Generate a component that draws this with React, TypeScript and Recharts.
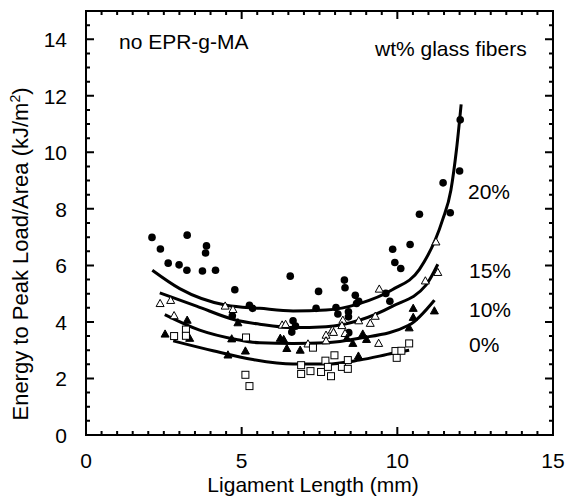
import { ComposedChart, XAxis, YAxis, Line, Scatter, Customized } from "recharts";

const FONT = "'Liberation Sans', Arial, Helvetica, sans-serif";

// measured points: [ligament length (mm), energy to peak load/area (kJ/m2)]
const glass20 = [
  [2.12, 6.99], [2.39, 6.58], [3.25, 7.07], [3.87, 6.69], [3.84, 6.44], [2.64, 6.08],
  [2.99, 6.02], [3.24, 5.83], [3.74, 5.8], [4.16, 5.83], [4.78, 5.14], [5.25, 4.59],
  [5.35, 4.48], [4.7, 4.22], [6.56, 5.62], [7.47, 5.08], [8.3, 5.48], [8.32, 5.21],
  [8.65, 4.94], [8.76, 4.73], [8.69, 4.65], [7.39, 4.48], [8.03, 4.51], [8.09, 4.28],
  [8.43, 4.36], [8.43, 4.18], [6.65, 4.04], [6.73, 3.85], [6.61, 3.64], [9.63, 5.01],
  [9.76, 4.73], [9.85, 6.57], [10.41, 6.74], [9.92, 6.1], [10.11, 5.89], [12.02, 11.15],
  [12.0, 9.34], [11.47, 8.92], [11.7, 7.86], [10.71, 7.81], [8.44, 3.62],
];
const glass15 = [
  [2.38, 4.65], [2.72, 4.76], [2.83, 4.22], [4.47, 4.56], [4.72, 4.44], [9.42, 5.16],
  [11.24, 6.83], [11.3, 5.75], [10.9, 5.45], [9.29, 4.2], [9.13, 3.95], [8.76, 4.04],
  [8.25, 4.06], [8.22, 3.87], [7.91, 3.71], [7.95, 3.63], [7.71, 3.53], [7.71, 3.33],
  [8.32, 3.59], [6.3, 3.89], [6.41, 3.91], [7.13, 3.22], [9.4, 3.24],
];
const glass10 = [
  [2.54, 3.57], [3.25, 4.06], [3.33, 3.42], [4.88, 3.97], [4.68, 3.4], [4.56, 2.83],
  [5.12, 2.97], [6.24, 3.42], [6.35, 3.38], [6.45, 3.06], [6.88, 3.0], [8.38, 3.42],
  [8.57, 3.24], [8.89, 3.57], [9.01, 3.38], [8.75, 2.79], [10.38, 3.79], [10.51, 4.48],
  [10.51, 4.16], [11.19, 4.39],
];
const glass0 = [
  [2.83, 3.5], [3.21, 3.73], [3.21, 3.51], [5.14, 3.45], [5.12, 2.13], [5.25, 1.73],
  [7.29, 3.09], [6.91, 2.47], [6.91, 2.16], [7.21, 2.26], [7.55, 2.23], [7.69, 2.63],
  [7.77, 2.41], [7.87, 2.08], [7.98, 2.82], [8.22, 2.41], [8.41, 2.65], [8.41, 2.34],
  [9.94, 2.97], [9.98, 2.73], [10.13, 2.98], [10.38, 3.24],
];

// fitted curves
const fit20 = [
  [2.13, 5.83], [3.01, 5.18], [4.51, 4.59], [5.58, 4.48], [6.65, 4.39], [7.71, 4.42],
  [8.78, 4.65], [9.85, 5.15], [10.71, 5.86], [11.45, 7.6], [11.72, 8.66], [11.9, 10.1],
  [12.05, 11.7],
];
const fit15 = [
  [2.37, 5.03], [3.55, 4.56], [4.83, 4.06], [5.58, 3.92], [6.65, 3.8], [7.71, 3.83],
  [8.78, 4.06], [9.85, 4.56], [10.92, 5.3], [11.3, 6.04],
];
const fit10 = [
  [2.53, 4.26], [3.65, 3.71], [4.83, 3.38], [5.58, 3.26], [6.65, 3.24], [7.71, 3.26],
  [8.78, 3.42], [10.38, 3.89], [11.19, 4.77],
];
const fit0 = [
  [2.8, 3.33], [4.08, 2.98], [5.36, 2.67], [6.65, 2.51], [7.71, 2.51], [8.78, 2.65],
  [9.85, 2.89], [10.38, 3.0],
];

const X_MAX = 15;
const Y_MAX = 15;
const xMajor = [0, 5, 10, 15];
const yMajor = [0, 2, 4, 6, 8, 10, 12, 14];
const xTicks = Array.from({ length: 31 }, (_, i) => i * 0.5);
const yTicks = Array.from({ length: 31 }, (_, i) => i * 0.5);

const toXY = (pts: number[][]) => pts.map(([x, y]) => ({ x, y }));

// chart box: the plot area follows from margin + axis sizes
const W = 565;
const H = 501;
const MARGIN = { top: 11, right: 12, bottom: 36, left: 26 };
const X_AXIS_H = 30;
const Y_AXIS_W = 60;
const plotLeft = MARGIN.left + Y_AXIS_W;
const plotTop = MARGIN.top;
const plotRight = W - MARGIN.right;
const plotBottom = H - MARGIN.bottom - X_AXIS_H;
const px = (v: number) => plotLeft + (v / X_MAX) * (plotRight - plotLeft);
const py = (v: number) => plotBottom - (v / Y_MAX) * (plotBottom - plotTop);

const xLen = (v: number) => (xMajor.includes(v) ? 8 : 4);
const yLen = (v: number) => (yMajor.includes(v) || v === Y_MAX ? 8 : 4);

// frame with inward ticks on all four sides, as one path
const Frame = () => {
  let d = `M${plotLeft},${plotTop}H${plotRight}V${plotBottom}H${plotLeft}Z`;
  xTicks.forEach((v) => {
    const x = px(v);
    d += `M${x},${plotBottom}v${-xLen(v)}M${x},${plotTop}v${xLen(v)}`;
  });
  yTicks.forEach((v) => {
    const y = py(v);
    d += `M${plotLeft},${y}h${yLen(v)}M${plotRight},${y}h${-yLen(v)}`;
  });
  return <path d={d} fill="none" stroke="#000" strokeWidth={2} />;
};

const BottomTick = ({ x, y, payload }: any) =>
  xMajor.includes(payload.value) ? (
    <text x={x} y={y + 33} textAnchor="middle" fontSize={21} fontFamily={FONT} fill="#000">
      {payload.value}
    </text>
  ) : (
    <g />
  );

const LeftTick = ({ x, y, payload }: any) =>
  yMajor.includes(payload.value) ? (
    <text x={x - 19} y={y + 8} textAnchor="end" fontSize={21} fontFamily={FONT} fill="#000">
      {payload.value}
    </text>
  ) : (
    <g />
  );

const dotShape = (p: any) => <circle cx={p.cx} cy={p.cy} r={3.8} fill="#000" />;
const triShape = (fill: string) => (p: any) => (
  <polygon
    points={`${p.cx},${p.cy - 4.2} ${p.cx - 4},${p.cy + 3} ${p.cx + 4},${p.cy + 3}`}
    fill={fill}
    stroke="#000"
    strokeWidth={1}
  />
);
const squareShape = (p: any) => (
  <rect x={p.cx - 3.5} y={p.cy - 3.5} width={7} height={7} fill="#fff" stroke="#000" strokeWidth={1} />
);

const Texts = () => (
  <g fontFamily={FONT} fill="#000">
    <Frame />
    <text x={119} y={49} fontSize={21}>no EPR-g-MA</text>
    <text x={375} y={56} fontSize={21}>wt% glass fibers</text>
    <text x={468} y={199} fontSize={21}>20%</text>
    <text x={469} y={278} fontSize={21}>15%</text>
    <text x={469} y={317} fontSize={21}>10%</text>
    <text x={469} y={352} fontSize={21}>0%</text>
    <text x={313} y={492} fontSize={21} textAnchor="middle">Ligament Length (mm)</text>
    <text transform="rotate(-90)" x={-254} y={28} fontSize={22} textAnchor="middle">
      Energy to Peak Load/Area (kJ/m<tspan dy={-8} fontSize={14}>2</tspan>
      <tspan dy={8}>)</tspan>
    </text>
  </g>
);

export default function App() {
  const lines = [fit20, fit15, fit10, fit0];
  return (
    <div style={{ position: "absolute", left: 0, top: 0, background: "#fff" }}>
      <ComposedChart width={W} height={H} margin={MARGIN}>
        <XAxis
          dataKey="x"
          type="number"
          domain={[0, X_MAX]}
          ticks={xTicks}
          interval={0}
          height={X_AXIS_H}
          tickSize={0}
          tickMargin={0}
          tick={BottomTick}
          axisLine={{ stroke: "#000", strokeWidth: 2 }}
          tickLine={false}
        />
        <YAxis
          dataKey="y"
          type="number"
          domain={[0, Y_MAX]}
          ticks={yTicks}
          interval={0}
          width={Y_AXIS_W}
          tickSize={0}
          tickMargin={0}
          tick={LeftTick}
          axisLine={{ stroke: "#000", strokeWidth: 2 }}
          tickLine={false}
        />
        {lines.map((fit, i) => (
          <Line
            key={i}
            data={toXY(fit)}
            dataKey="y"
            type="monotone"
            stroke="#000"
            strokeWidth={3}
            dot={false}
            isAnimationActive={false}
          />
        ))}
        <Scatter data={toXY(glass20)} dataKey="y" shape={dotShape} isAnimationActive={false} />
        <Scatter data={toXY(glass15)} dataKey="y" shape={triShape("#fff")} isAnimationActive={false} />
        <Scatter data={toXY(glass10)} dataKey="y" shape={triShape("#000")} isAnimationActive={false} />
        <Scatter data={toXY(glass0)} dataKey="y" shape={squareShape} isAnimationActive={false} />
        <Customized component={Texts} />
      </ComposedChart>
    </div>
  );
}
